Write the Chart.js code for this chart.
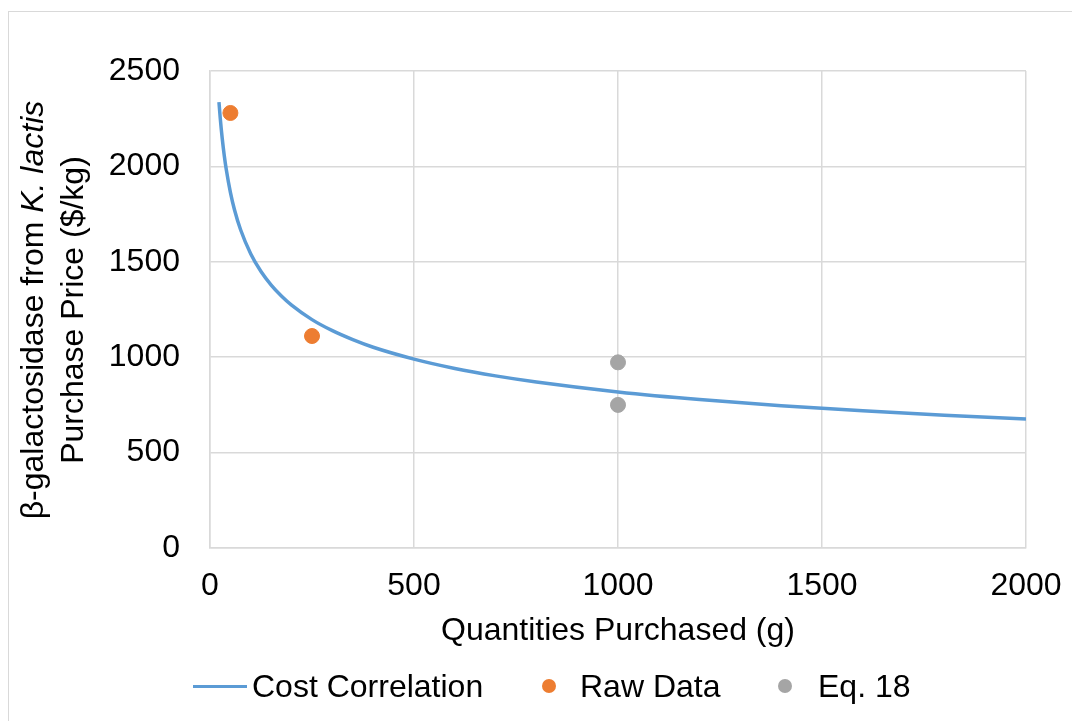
<!DOCTYPE html>
<html>
<head>
<meta charset="utf-8">
<script src="https://cdn.jsdelivr.net/npm/chart.js@4"></script>
<style>
  html, body { margin: 0; padding: 0; background: #fff; overflow: hidden; }
  #wrap { position: relative; width: 1072px; height: 721px; }
  #frame { position: absolute; left: 8px; top: 11px; width: 1100px; height: 760px;
           border-top: 1.5px solid #d9d9d9; border-left: 1.5px solid #d9d9d9; }
  #ytitle { position: absolute; left: 52px; top: 310px; width: 600px; margin-left: -300px;
            transform: translateY(-50%) rotate(-90deg); text-align: center;
            font: 32px "Liberation Sans", Arial, sans-serif; line-height: 40px; color: #000; }
  .leg { position: absolute; font: 32px "Liberation Sans", Arial, sans-serif; color: #000;
         top: 686px; transform: translateY(-50%); white-space: nowrap; }
  .mark { position: absolute; }
</style>
</head>
<body>
<div id="wrap">
  <div id="frame"></div>
  <canvas id="myChart" width="1072" height="721"></canvas>
  <div id="ytitle">β-galactosidase from <i>K. lactis</i><br>Purchase Price ($/kg)</div>
  <div class="mark" style="left:193px; top:685px; width:54px; height:3px; background:#5b9bd5;"></div>
  <div class="leg" style="left:252px;">Cost Correlation</div>
  <div class="mark" style="left:542px; top:679px; width:14px; height:14px; border-radius:50%; background:#ed7d31;"></div>
  <div class="leg" style="left:580px;">Raw Data</div>
  <div class="mark" style="left:778px; top:679px; width:14px; height:14px; border-radius:50%; background:#a5a5a5;"></div>
  <div class="leg" style="left:818px;">Eq. 18</div>
</div>
<script>
// cost correlation curve
const curveX = [22, 25, 30, 35, 40, 50, 60, 75, 100, 125, 150, 175, 200, 250, 300, 350, 400, 500, 600, 700, 800, 1000, 1200, 1400, 1600, 1800, 2000];
const curveY = [2337, 2256, 2146, 2056, 1982, 1864, 1773, 1668, 1541, 1449, 1378, 1321, 1273, 1197, 1139, 1092, 1052, 990, 941, 902, 870, 818, 778, 746, 719, 696, 676];

const rawX = [50, 250];
const rawY = [2280, 1111];

const eqX = [1000, 1000];
const eqY = [973, 750];

const xTicks = [0, 500, 1000, 1500, 2000];
const yTicks = [0, 500, 1000, 1500, 2000, 2500];

function pts(xs, ys) {
  return xs.map((x, i) => ({ x: x, y: ys[i] }));
}

const tickFont = { family: "'Liberation Sans', Arial, sans-serif", size: 32 };

const chart = new Chart(document.getElementById("myChart"), {
  type: "scatter",
  data: {
    datasets: [
      {
        label: "Cost Correlation",
        data: pts(curveX, curveY),
        showLine: true,
        borderColor: "#5b9bd5",
        borderWidth: 3.5,
        pointRadius: 0,
        cubicInterpolationMode: "monotone",
        order: 3
      },
      {
        label: "Raw Data",
        data: pts(rawX, rawY),
        backgroundColor: "#ed7d31",
        borderColor: "#ed7d31",
        pointRadius: 7.5,
        order: 1
      },
      {
        label: "Eq. 18",
        data: pts(eqX, eqY),
        backgroundColor: "#a5a5a5",
        borderColor: "#a5a5a5",
        pointRadius: 7.5,
        order: 2
      }
    ]
  },
  options: {
    responsive: false,
    animation: false,
    layout: { padding: { left: 0, right: 46, top: 71, bottom: 0 } },
    plugins: {
      legend: { display: false },
      tooltip: { enabled: false }
    },
    scales: {
      x: {
        type: "linear",
        min: 0,
        max: 2000,
        afterBuildTicks: (s) => { s.ticks = xTicks.map(v => ({ value: v })); },
        afterFit: (s) => { s.height = 173; s.paddingRight = 0; s.paddingLeft = 0; },
        grid: { color: "#d9d9d9", lineWidth: 1.5, drawTicks: false },
        border: { color: "#d9d9d9", width: 1.5 },
        ticks: { color: "#000", font: tickFont, padding: 19, maxRotation: 0, callback: (v) => String(v) },
        title: {
          display: true,
          text: "Quantities Purchased (g)",
          color: "#000",
          font: tickFont,
          padding: { top: 0, bottom: 71 }
        }
      },
      y: {
        type: "linear",
        min: 0,
        max: 2500,
        afterBuildTicks: (s) => { s.ticks = yTicks.map(v => ({ value: v })); },
        afterFit: (s) => { s.width = 210; },
        grid: { color: "#d9d9d9", lineWidth: 1.5, drawTicks: false },
        border: { color: "#d9d9d9", width: 1.5 },
        ticks: { color: "#000", font: tickFont, padding: 30, callback: (v) => String(v) }
      }
    }
  }
});
</script>
</body>
</html>
